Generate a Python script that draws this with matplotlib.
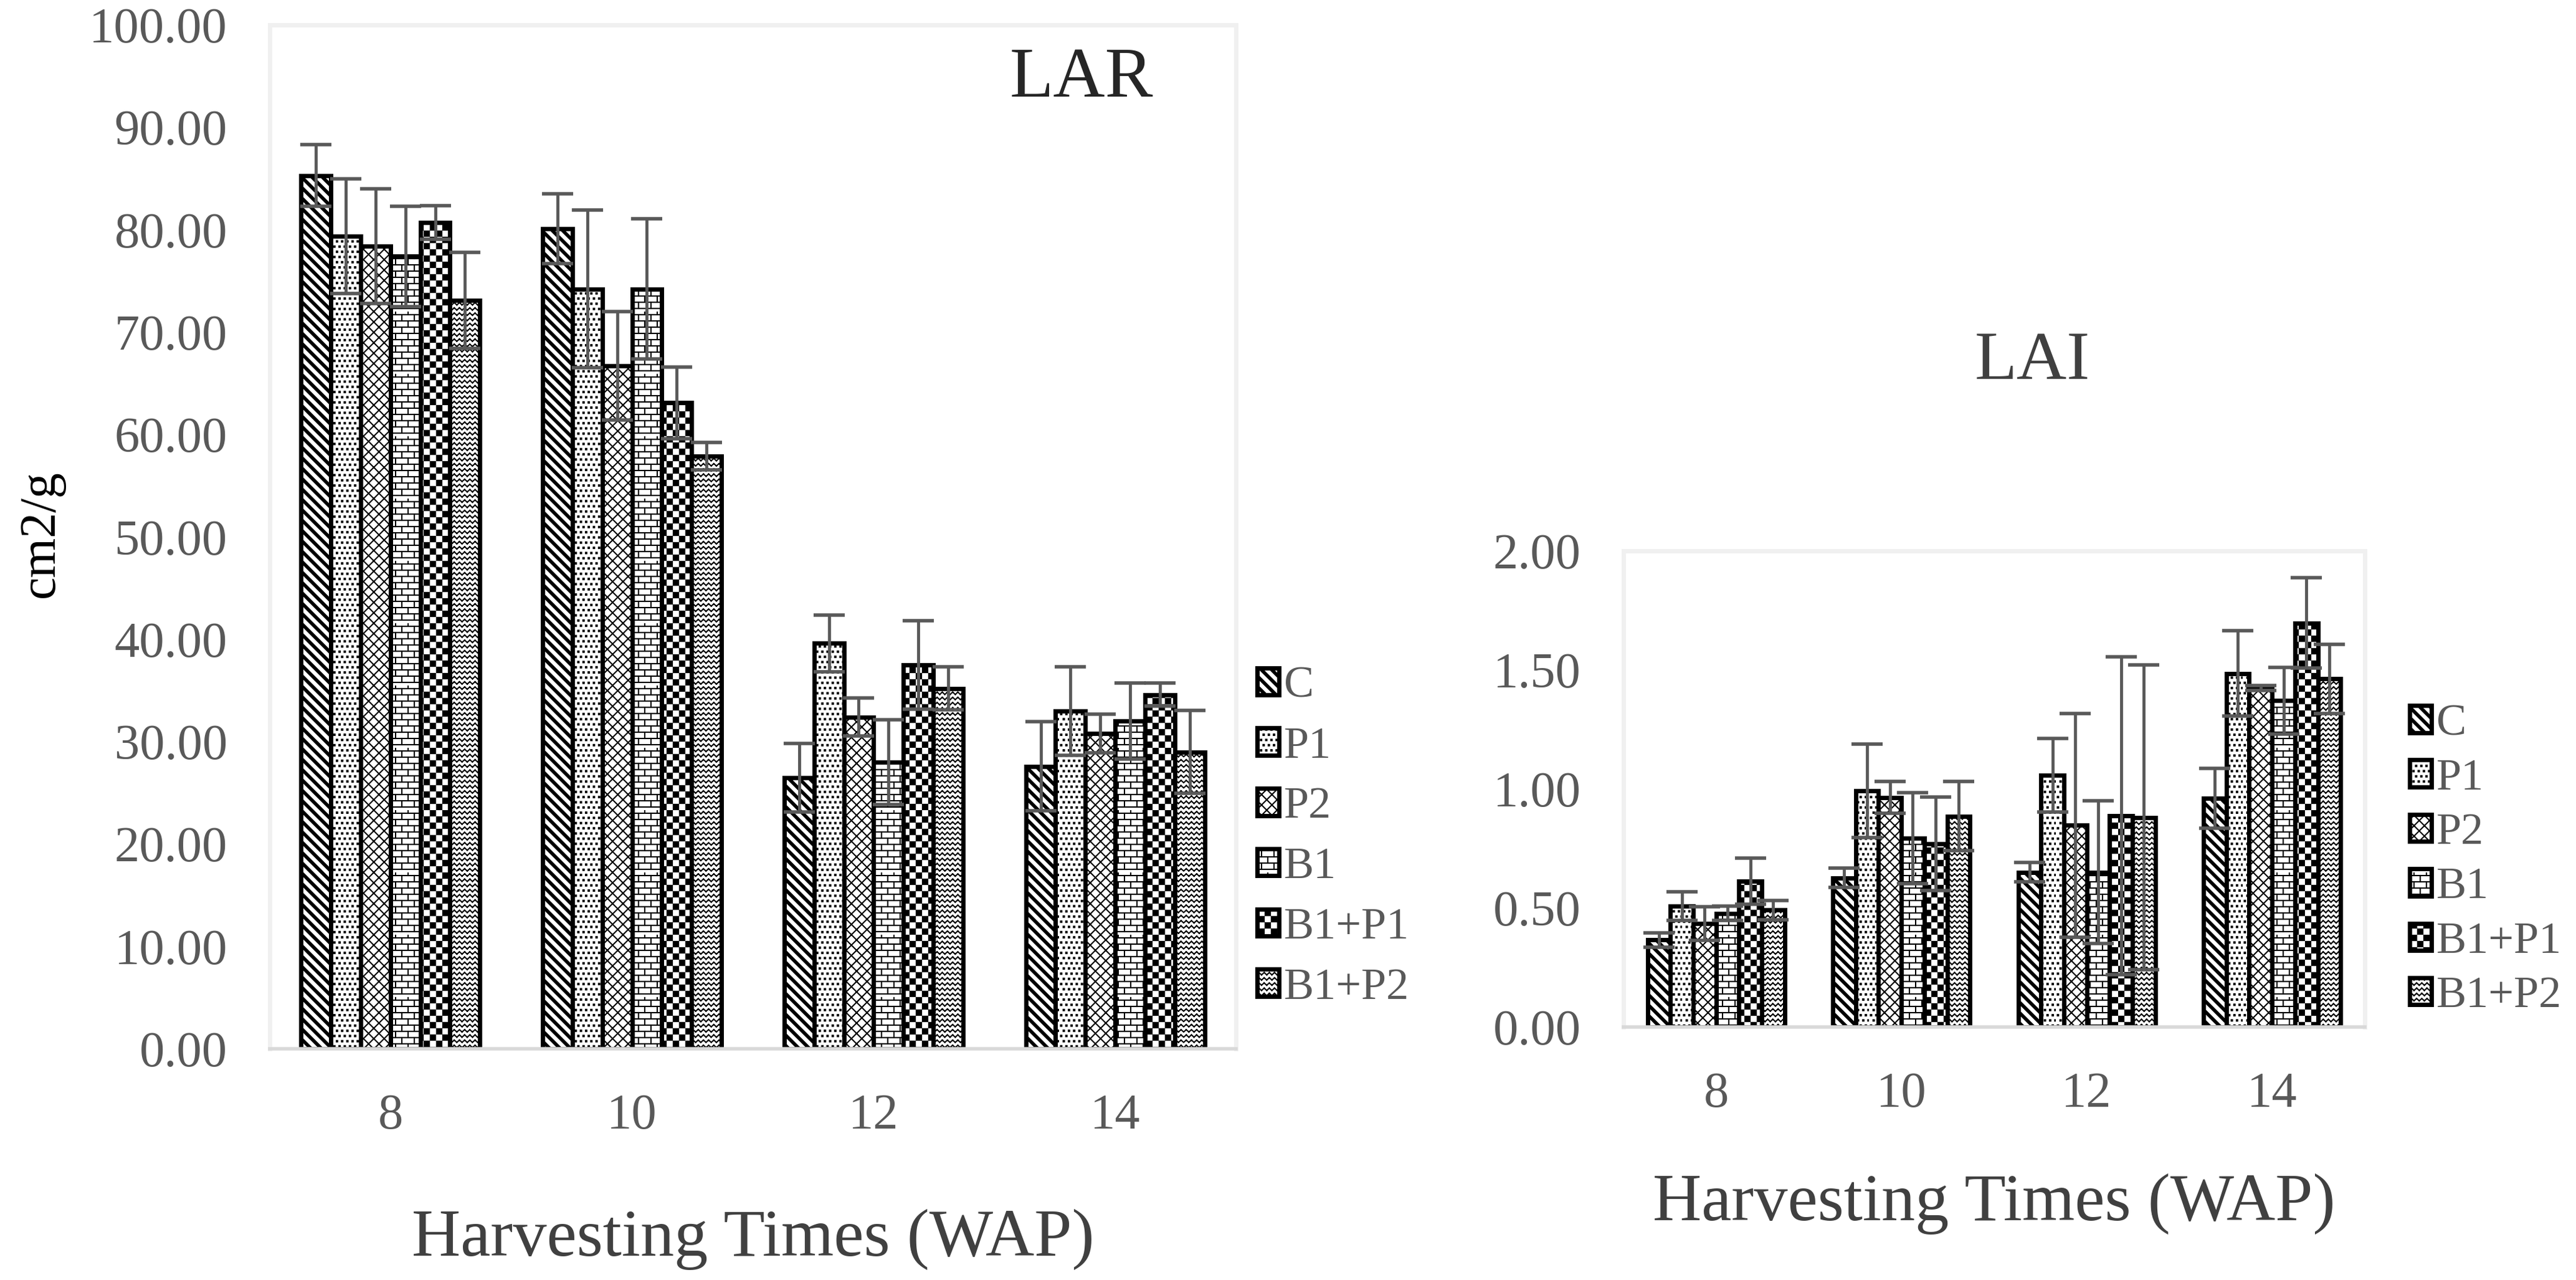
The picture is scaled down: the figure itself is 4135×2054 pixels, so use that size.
import numpy as np
import matplotlib
matplotlib.use('Agg')
from matplotlib import pyplot as plt
from matplotlib import hatch as mhatch
from matplotlib.path import Path
from matplotlib.patches import Rectangle

weeks = ['8', '10', '12', '14']
treatments = ['C', 'P1', 'P2', 'B1', 'B1+P1', 'B1+P2']

# rows follow treatments, columns follow weeks
lar_mean = [[85.3, 80.1, 26.5, 27.6],
            [79.4, 74.2, 39.6, 33.0],
            [78.4, 66.7, 32.4, 30.8],
            [77.4, 74.2, 28.0, 32.0],
            [80.7, 63.1, 37.5, 34.6],
            [73.1, 57.9, 35.2, 29.0]]
lar_err = [[3.0, 3.4, 3.35, 4.35],
           [5.6, 7.7, 2.75, 4.3],
           [5.6, 5.3, 1.85, 1.9],
           [4.9, 6.85, 4.15, 3.7],
           [1.65, 3.5, 4.3, 1.15],
           [4.7, 1.35, 2.1, 4.05]]

lai_mean = [[0.366, 0.626, 0.650, 0.961],
            [0.508, 0.992, 1.058, 1.485],
            [0.434, 0.964, 0.847, 1.423],
            [0.477, 0.793, 0.650, 1.371],
            [0.612, 0.769, 0.887, 1.697],
            [0.491, 0.885, 0.880, 1.462]]
lai_err = [[0.03, 0.04, 0.04, 0.125],
           [0.06, 0.196, 0.155, 0.18],
           [0.07, 0.066, 0.47, 0.01],
           [0.03, 0.19, 0.30, 0.14],
           [0.096, 0.197, 0.667, 0.19],
           [0.04, 0.145, 0.64, 0.146]]

lar_ticks = [0, 10, 20, 30, 40, 50, 60, 70, 80, 90, 100]
lai_ticks = [0, 0.5, 1.0, 1.5, 2.0]


# Excel-like pattern fills. matplotlib's own hatch classes are swapped for
# these, so thick stripes, dots, bricks, checkers and waves can be drawn
# with one shared hatch line width.
SEG = [Path.MOVETO, Path.LINETO]
BOX = [Path.MOVETO, Path.LINETO, Path.LINETO, Path.LINETO, Path.CLOSEPOLY]


class StripeHatch(mhatch.HatchPatternBase):
    # '\' : thick diagonal bands
    def __init__(self, hatch, density):
        self.n = hatch.count('\\') * 6
        self.num_vertices = (2 * self.n + 1) * 5 if self.n else 0

    def set_vertices_and_codes(self, vertices, codes):
        h = 0.15 / self.n
        pts = []
        for k in range(2 * self.n + 1):
            c = k / self.n
            pts += [[0, c - h], [1, c - 1 - h], [1, c - 1 + h], [0, c + h],
                    [0, c - h]]
        vertices[:] = pts
        codes[:] = BOX * (2 * self.n + 1)


class CrossHatch(mhatch.HatchPatternBase):
    # 'x' : thin diagonal cross lines
    def __init__(self, hatch, density):
        self.n = hatch.count('x') * 6
        self.num_vertices = (2 * self.n + 1) * 4 if self.n else 0

    def set_vertices_and_codes(self, vertices, codes):
        pts = []
        for k in range(2 * self.n + 1):
            c = k / self.n
            pts += [[0, c - 1], [1, c], [0, c], [1, c - 1]]
        vertices[:] = pts
        codes[:] = SEG * (2 * (2 * self.n + 1))


class DotHatch(mhatch.HatchPatternBase):
    # '.' : small staggered square dots
    def __init__(self, hatch, density):
        self.n = hatch.count('.') * 6
        self.num_vertices = self.n * self.n * 5 if self.n else 0

    def set_vertices_and_codes(self, vertices, codes):
        step = 1.0 / self.n
        side = 0.22 * step
        square = np.array([[0, 0], [1, 0], [1, 1], [0, 1], [0, 0]]) * side
        parts = []
        for r in range(self.n):
            for c in range(self.n):
                x0 = (c + 0.5 * (r % 2) + 0.3) * step
                parts.append(square + [x0, (r + 0.4) * step])
        vertices[:] = np.concatenate(parts)
        codes[:] = BOX * len(parts)


class BrickHatch(mhatch.HatchPatternBase):
    # 'O' : brick wall
    def __init__(self, hatch, density):
        self.rows = hatch.count('O') * 10
        self.num_vertices = self.rows * 2 + self.rows * (self.rows // 2) * 2

    def set_vertices_and_codes(self, vertices, codes):
        step = 1.0 / self.rows
        pts = []
        for r in range(self.rows):
            y = (r + 0.5) * step
            pts += [[0, y], [1, y]]
            for k in range(self.rows // 2):
                xv = (2 * k + r % 2 + 0.5) * step
                pts += [[xv, y], [xv, y + step]]
        vertices[:] = pts
        codes[:] = SEG * (len(pts) // 2)


class CheckerHatch(mhatch.HatchPatternBase):
    # '*' : checkerboard
    def __init__(self, hatch, density):
        self.cells = hatch.count('*') * 10
        self.num_vertices = self.cells * self.cells // 2 * 5

    def set_vertices_and_codes(self, vertices, codes):
        step = 1.0 / self.cells
        inset = 0.09 * step
        square = (np.array([[0, 0], [1, 0], [1, 1], [0, 1], [0, 0]])
                  * (step - 2 * inset) + inset)
        parts = []
        for r in range(self.cells):
            for c in range(r % 2, self.cells, 2):
                parts.append(square + [c * step, r * step])
        vertices[:] = np.concatenate(parts)
        codes[:] = BOX * len(parts)


class WaveHatch(mhatch.HatchPatternBase):
    # 'o' : rows of small waves
    def __init__(self, hatch, density):
        self.rows = hatch.count('o') * 12
        self.num_vertices = self.rows * self.rows * 2 * 2

    def set_vertices_and_codes(self, vertices, codes):
        step = 1.0 / self.rows
        amp = 0.22 * step
        pts = []
        for r in range(self.rows):
            y = (r + 0.5) * step
            for c in range(self.rows * 2):
                x0 = c * step / 2
                y0 = y + (amp if c % 2 else -amp)
                y1 = y + (-amp if c % 2 else amp)
                pts += [[x0, y0], [x0 + step / 2, y1]]
        vertices[:] = pts
        codes[:] = SEG * (len(pts) // 2)


mhatch._hatch_types[:] = [StripeHatch, CrossHatch, DotHatch,
                          BrickHatch, CheckerHatch, WaveHatch]

hatches = ['\\', '..', 'x', 'O', '*', 'o']

plt.rcParams['font.family'] = ['Liberation Serif', 'DejaVu Serif']
plt.rcParams['hatch.linewidth'] = 1.5
plt.rcParams['hatch.color'] = 'black'

TICK_GREY = '#595959'
TEXT_GREY = '#404040'
EDGE_LW = 5.0


def draw_panel(ax, means, errs, ticks):
    x = np.arange(len(weeks))
    width = 0.74 / len(treatments)
    for i in range(len(treatments)):
        pos = x + (i - (len(treatments) - 1) / 2) * width
        ax.bar(pos, means[i], width, color='white', edgecolor='black',
               linewidth=EDGE_LW, hatch=hatches[i], zorder=2)
        ax.errorbar(pos, means[i], yerr=errs[i], fmt='none',
                    ecolor=TICK_GREY, elinewidth=3.5, capsize=18,
                    capthick=4, zorder=3)

    ax.set_xlim(-0.5, len(weeks) - 0.5)
    ax.set_ylim(ticks[0], ticks[-1])
    ax.set_xticks(x)
    ax.set_xticklabels(weeks)
    ax.set_yticks(ticks)
    ax.set_yticklabels(['%.2f' % t for t in ticks])
    ax.tick_params(axis='both', length=0, labelsize=58, labelcolor=TICK_GREY)
    ax.tick_params(axis='x', pad=52)
    ax.tick_params(axis='y', pad=49)
    for side in ['left', 'right', 'top']:
        ax.spines[side].set_color('#F0F0F0')
        ax.spines[side].set_linewidth(5)
    ax.spines['bottom'].set_color('#D9D9D9')
    ax.spines['bottom'].set_linewidth(4)


def add_legend(ax, fig, anchor, spacing):
    handles = [Rectangle((0, 0), 1, 1, facecolor='white', edgecolor='black',
                         linewidth=EDGE_LW, hatch=h) for h in hatches]
    ax.legend(handles, treatments, loc='center left', bbox_to_anchor=anchor,
              bbox_transform=fig.transFigure, frameon=False, fontsize=52,
              handlelength=0.48, handleheight=0.55, handletextpad=0.12,
              labelspacing=spacing, borderpad=0, borderaxespad=0,
              labelcolor=TICK_GREY)


fig = plt.figure(figsize=(41.35, 20.54), dpi=100)

ax1 = fig.add_axes([0.1047, 0.1806, 0.3751, 0.7999])
draw_panel(ax1, lar_mean, lar_err, lar_ticks)
ax1.text(0.84, 0.947, 'LAR', transform=ax1.transAxes, ha='center',
         va='center', fontsize=83, color='#262626')
ax1.set_xlabel('Harvesting Times (WAP)', fontsize=78, color=TEXT_GREY,
               va='center')
ax1.xaxis.set_label_coords(0.5, -0.186)
fig.text(0.016, 0.583, 'cm2/g', rotation=90, ha='center', va='center',
         fontsize=59, color='black')
add_legend(ax1, fig, (0.488, 0.346), 0.44)

ax2 = fig.add_axes([0.6302, 0.1977, 0.2878, 0.3720])
draw_panel(ax2, lai_mean, lai_err, lai_ticks)
fig.text(0.7889, 0.717, 'LAI', ha='center', va='center', fontsize=80,
         color=TEXT_GREY)
ax2.set_xlabel('Harvesting Times (WAP)', fontsize=78, color=TEXT_GREY,
               va='center')
ax2.xaxis.set_label_coords(0.5, -0.372)
add_legend(ax2, fig, (0.9354, 0.328), 0.31)

fig.savefig('out.png', dpi=100, facecolor='white')
